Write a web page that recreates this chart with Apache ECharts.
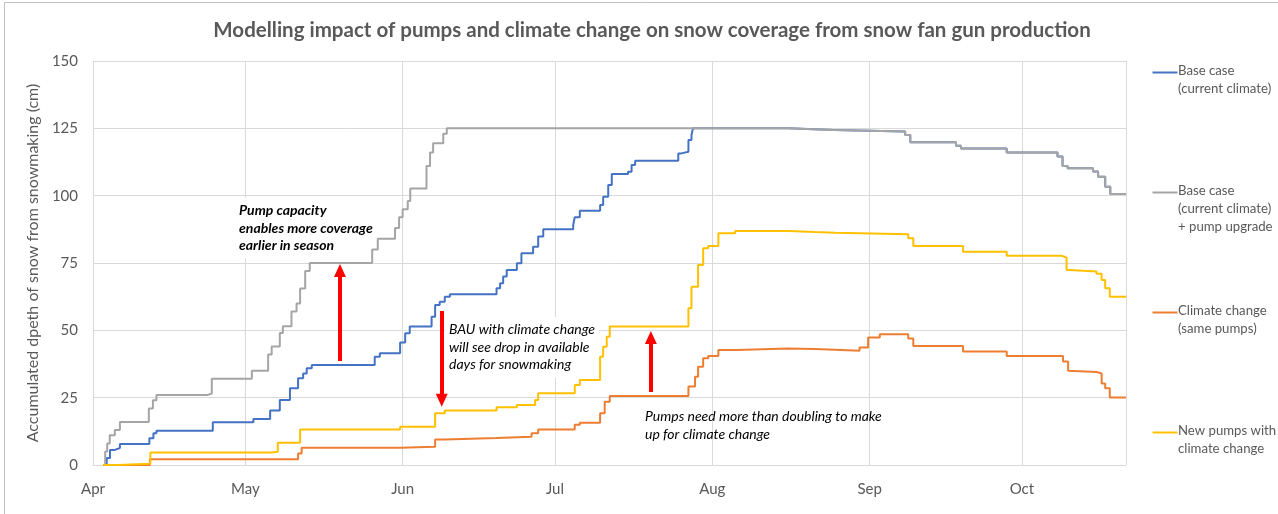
<!DOCTYPE html>
<html>
<head>
<meta charset="utf-8">
<script src="https://cdn.jsdelivr.net/npm/echarts@6/dist/echarts.min.js"></script>
<style>
  html, body { margin: 0; padding: 0; background: #fff; }
  #chart { width: 1278px; height: 514px; }
</style>
</head>
<body>
<div id="chart"></div>
<script>
// ---------- DATA (day offset from 1 April, accumulated depth in cm) ----------
const monthLabels = ['Jan','Feb','Mar','Apr','May','Jun','Jul','Aug','Sep','Oct','Nov','Dec'];
const seriesNames = [
  'Base case\n(current climate)',
  'Base case\n(current climate)\n+ pump upgrade',
  'Climate change\n(same pumps)',
  'New pumps with\nclimate change'
];
const yTicks = [0, 25, 50, 75, 100, 125, 150];
const lastDay = 203.5;

// Base case + pump upgrade (grey)
const pumpUpgrade = [
  [2,0],[2.4,5],[2.8,8],[3.3,11],[4.3,13],[5.3,16],[11,21],[11.8,24],[12.5,26],
  [22.5,26.5],[23.4,32],[31.3,35],[34.5,41],[35.2,44],[36.8,49],[37.4,51.5],
  [39.1,57],[40.1,60],[40.8,65.5],[41.8,72],[42.7,75],[55,80],[56.1,84],
  [59.5,88],[60.3,92],[61,95],[62,98],[62.5,102.7],[65.7,111],[66.4,116],
  [67,119.5],[69,123],[69.7,125],[137,124.7],[142,124.4],[146,123.8],
  [160,122.5],[161,119.8],[170,118.5],[171,117.5],[180,116],[190,114.5],
  [191,111],[192,110.2],[197,109],[198,107],[199.4,103.3],[200.4,100.6],[203.5,100.6]
];
// Base case (blue) until it joins the grey curve at 125 cm
const baseCaseRise = [
  [2,0],[2.7,2.6],[3.35,5.6],[4.3,6.3],[5.3,7.8],[11.1,9.9],[11.9,11.8],[12.5,12.7],
  [23.6,15.9],[31.6,17.1],[34.9,20.2],[36.8,24.1],[38.8,28.5],[40.4,32.2],
  [41.4,34],[42.1,35.9],[43.1,37.1],[55.5,40.2],[56.5,41.5],[60.5,45.5],
  [61.5,48.9],[62.4,51.4],[66.7,55],[67.4,59.4],[68.3,60.6],[69.3,62.5],
  [70.3,63.4],[79.5,65.6],[80.2,67.5],[80.8,70],[81.5,72.4],[83.5,74.9],
  [84.4,78.6],[86.7,81],[87.7,84.8],[88.7,87.5],[94.6,89.1],[94.9,92],
  [95.9,94.4],[99.9,96.5],[100.5,99.6],[101.5,104],[102.2,108],[105.4,108.9],
  [106.1,111.4],[106.8,113],[115.3,115.7],[115.9,116.3],[117.3,120.7],
  [117.9,122.5],[118.2,125]
];
// Climate change, same pumps (orange)
const climateSame = [
  [2,0],[11.2,2.1],[40.4,4.3],[41.1,6.4],[60.5,6.8],[67.4,9.5],[69.3,10],
  [79.5,10.5],[86.4,11.8],[87.7,13.2],[94.9,14.9],[95.9,15.7],[99.9,19.2],
  [100.8,23.5],[101.8,25.6],[117.3,29.1],[118.6,32.8],[119.2,36.5],[120.2,39.6],
  [121.2,40.5],[123.2,42.7],[126.8,43.3],[136.9,43.1],[142.2,42.8],[146.2,42.4],
  [151,43.6],[152.7,47.3],[155,48.5],[160.6,47],[161.6,44.2],[171.4,42.1],
  [180,40.5],[191.1,38.4],[192.1,35],[192.4,34.5],[197.7,34],[198.7,30.3],
  [199.4,28.5],[200.3,25.1],[203.5,25.1]
];
// New pumps with climate change (yellow)
const newPumpsClimate = [
  [2,0],[4.9,0.5],[11.3,4.6],[35.2,4.9],[36.4,8.3],[40.8,13.2],[60.5,14.2],
  [67.4,19.2],[69.3,20.2],[79.5,21.4],[83.5,22.3],[87.1,24.1],[87.7,26.6],
  [94.9,29.7],[95.9,31.6],[99.9,40.2],[100.5,43.9],[101.2,47.6],[101.8,51.4],
  [117.3,58.2],[117.9,66.2],[119.2,74.3],[120.2,80.5],[121.2,81.3],[123.2,86],
  [126.5,86.9],[137,86.5],[142.2,86.2],[146.2,85.7],[160.6,84.2],[161.6,81.3],
  [171.4,79.2],[180,77.7],[190.8,77],[191.8,72.4],[192.4,71.8],[197.7,71],
  [198.7,68.7],[199.4,65.6],[200.3,62.5],[203.5,62.5]
];
// Annotation arrows: [day, fromValue, toValue]
const arrows = [
  [48.65, 38.6, 72.2],
  [68.7, 57.2, 24.0],
  [109.9, 27.1, 47.3]
];
const notes = [
  'Pump capacity\nenables more coverage\nearlier in season',
  'BAU with climate change\nwill see drop in available\ndays for snowmaking',
  'Pumps need more than doubling to make\nup for climate change'
];

// ---------- BUILD ----------
const DAY = 86400000;
const t0 = new Date(2023, 3, 1).getTime();
const toTime = d => t0 + d * DAY;
const conv = arr => arr.map(p => [toTime(p[0]), p[1]]);
const baseCase = baseCaseRise.concat(pumpUpgrade.filter(p => p[0] > 118.2));
const colors = ['#4472C4', '#A5A5A5', '#ED7D31', '#FFC000'];
const seriesData = [baseCase, pumpUpgrade, climateSame, newPumpsClimate];
const FONT = 'Lato, "Open Sans", sans-serif';
const TXT = '#595959';

const series = seriesData.map((d, i) => ({
  name: seriesNames[i],
  type: 'line',
  step: 'end',
  showSymbol: false,
  symbol: 'none',
  data: conv(d),
  lineStyle: { color: colors[i], width: 2 },
  itemStyle: { color: colors[i] },
  z: 2 + i
}));
series.push({
  type: 'line', data: [], silent: true, z: 10,
  markLine: {
    silent: true,
    symbol: ['none', 'triangle'],
    symbolSize: [12, 13],
    label: { show: false },
    lineStyle: { color: '#FF0000', width: 4, type: 'solid' },
    data: arrows.map(a => [{ coord: [toTime(a[0]), a[1]] }, { coord: [toTime(a[0]), a[2]] }])
  }
});

// legend drawn as graphic so the swatch aligns with the first text line
const legendTops = [71, 191, 311, 431];
const graphic = [];
seriesNames.forEach((n, i) => {
  graphic.push({
    type: 'line', left: 1150, top: legendTops[i] - 1,
    shape: { x1: 0, y1: 0, x2: 25, y2: 0 },
    style: { stroke: colors[i], lineWidth: 2 }
  });
  graphic.push({
    type: 'text', left: 1178, top: legendTops[i] - 9,
    style: { text: n, fill: TXT, font: '13.2px ' + FONT, lineHeight: 18 }
  });
});
const notePos = [[235, 198, 'italic bold', true], [445, 317, 'italic', true], [641, 404, 'italic', false]];
notes.forEach((n, i) => {
  const style = {
    text: n, fill: '#000', font: notePos[i][2] + ' 14px ' + FONT, lineHeight: 17.5,
    padding: [4, 4, 4, 4]
  };
  if (notePos[i][3]) style.backgroundColor = '#fff';
  graphic.push({ type: 'text', left: notePos[i][0], top: notePos[i][1], z: 1, style: style });
});
graphic.push({
  type: 'rect', left: 2, top: 0,
  shape: { x: 0.5, y: 0.5, width: 1274, height: 512 },
  style: { fill: 'none', stroke: '#BFBFBF', lineWidth: 1 }, silent: true
});

const chart = echarts.init(document.getElementById('chart'), null, { renderer: 'canvas' });
chart.setOption({
  animation: false,
  backgroundColor: '#fff',
  title: {
    text: 'Modelling impact of pumps and climate change on snow coverage from snow fan gun production',
    left: 647, textAlign: 'center', top: 15,
    textStyle: { color: TXT, fontFamily: FONT, fontWeight: 'bold', fontSize: 20.5 }
  },
  grid: { left: 93, right: 152, top: 61, bottom: 49, containLabel: false },
  xAxis: {
    type: 'time',
    min: toTime(0), max: toTime(lastDay),
    minInterval: 28 * DAY, maxInterval: 31 * DAY,
    axisLine: { show: true, lineStyle: { color: '#D9D9D9', width: 1 } },
    axisTick: { show: false },
    splitLine: { show: true, lineStyle: { color: '#D9D9D9', width: 1 } },
    axisLabel: {
      color: TXT, fontFamily: FONT, fontSize: 15, margin: 17,
      showMinLabel: true,
      formatter: v => monthLabels[new Date(v).getMonth()]
    }
  },
  yAxis: {
    type: 'value', min: yTicks[0], max: yTicks[yTicks.length - 1], interval: 25,
    name: 'Accumulated dpeth of snow from snowmaking (cm)',
    nameLocation: 'middle', nameGap: 52,
    nameTextStyle: { color: TXT, fontFamily: FONT, fontSize: 16 },
    axisLine: { show: false }, axisTick: { show: false },
    splitLine: { show: true, lineStyle: { color: '#D9D9D9', width: 1 } },
    axisLabel: { color: TXT, fontFamily: FONT, fontSize: 15, margin: 15 }
  },
  legend: { show: false },
  series: series,
  graphic: graphic
});
</script>
</body>
</html>
